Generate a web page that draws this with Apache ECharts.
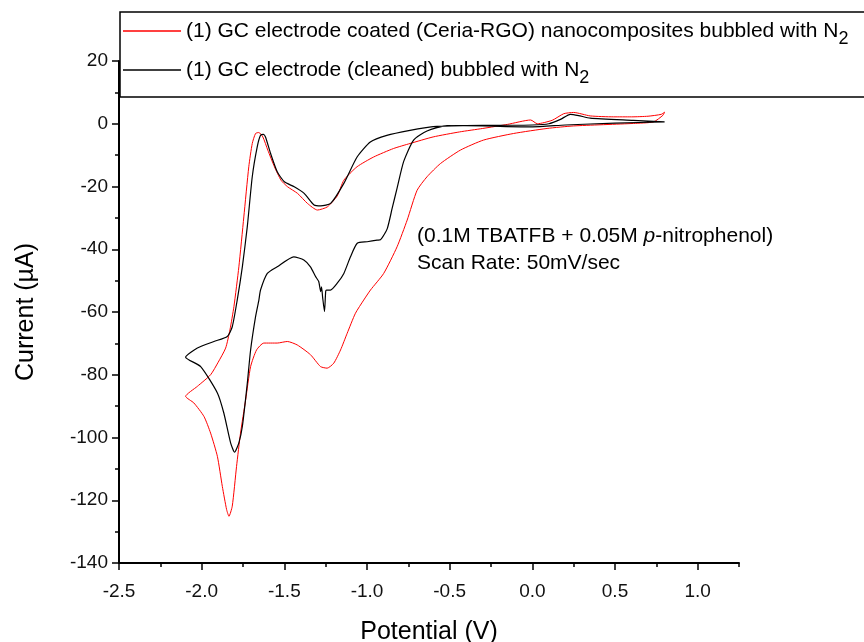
<!DOCTYPE html>
<html>
<head>
<meta charset="utf-8">
<script src="https://cdn.jsdelivr.net/npm/echarts@6/dist/echarts.min.js"></script>
<style>
  html, body { margin: 0; padding: 0; background: #fff; }
  #chart { width: 864px; height: 642px; }
</style>
</head>
<body>
<div id="chart"></div>
<script>
// Cyclic voltammograms, 0.8 V -> -2.1 V -> 0.8 V

const seriesNames = [
  '(1) GC electrode coated (Ceria-RGO) nanocomposites bubbled with N2',
  '(1) GC electrode (cleaned) bubbled with N2'
];

// Ceria-RGO coated GC electrode: potential (V) and current (µA), in scan order
const ceriaPotential = [
  0.80, 0.78, 0.70, 0.60, 0.49, 0.35, 0.25, 0.19, 0.12, 0.03, -0.01, -0.15,
  -0.30, -0.44, -0.60, -0.74, -0.84, -0.96, -1.06, -1.14, -1.18, -1.24,
  -1.30, -1.36, -1.42, -1.48, -1.52, -1.56, -1.60, -1.63, -1.654, -1.674,
  -1.694, -1.715, -1.745, -1.775, -1.805, -1.829, -1.855, -1.90, -1.946,
  -2.026, -2.097,
  -2.047, -1.986, -1.946, -1.905, -1.875, -1.849, -1.835, -1.815, -1.789,
  -1.765, -1.734, -1.704, -1.668, -1.624, -1.543, -1.482, -1.422, -1.342,
  -1.281, -1.241, -1.201, -1.160, -1.120, -1.070, -1.020, -0.979, -0.899,
  -0.818, -0.757, -0.697, -0.637, -0.556, -0.435, -0.295, -0.113, 0.089,
  0.249, 0.612, 0.733, 0.79, 0.80
];
const ceriaCurrent = [
  3.7, 3.0, 2.4, 2.2, 2.2, 2.5, 3.6, 3.2, 1.1, 0.0, 1.2, -0.2,
  -1.5, -2.6, -4.2, -6.3, -7.9, -10.6, -13.7, -18.0, -23.0, -26.5,
  -27.5, -25.4, -22.2, -20.1, -18.0, -13.7, -8.4, -4.2, -2.8, -3.1,
  -6.3, -13.7, -29.7, -45.6, -58.3, -65.7, -71.5, -76.0, -80.0,
  -83.7, -86.9,
  -89.0, -93.3, -98.6, -106.0, -115.6, -123.0, -125.1, -121.9, -109.2,
  -98.6, -88.0, -77.4, -72.1, -69.9, -69.9, -69.4, -70.5, -73.6,
  -77.4, -77.9, -76.3, -72.1, -66.8, -60.4, -56.2, -53.0, -47.7,
  -39.2, -30.7, -21.2, -16.9, -12.7, -8.4, -5.2, -3.1, -1.5,
  -0.7, 0.1, 0.6, 2.7, 3.7
];

// Cleaned GC electrode: potential (V) and current (µA), in scan order
const cleanedPotential = [
  0.80, 0.61, 0.35, 0.28, 0.23, 0.17, 0.10, 0.00, -0.20, -0.40, -0.60,
  -0.74, -0.88, -0.98, -1.06, -1.14, -1.22, -1.28, -1.32, -1.38, -1.44,
  -1.50, -1.543, -1.583, -1.614, -1.627, -1.644, -1.664, -1.694, -1.724,
  -1.754, -1.785, -1.815, -1.845, -1.926, -2.026, -2.097,
  -2.006, -1.905, -1.866, -1.825, -1.801, -1.775, -1.754, -1.724, -1.704,
  -1.674, -1.654, -1.644, -1.603, -1.543, -1.443, -1.382, -1.342, -1.311,
  -1.292, -1.280, -1.275, -1.268, -1.257, -1.250, -1.245, -1.221, -1.180,
  -1.140, -1.100, -1.059, -0.999, -0.939, -0.919, -0.878, -0.848, -0.818,
  -0.778, -0.718, -0.637, -0.516, -0.30, 0.00, 0.20, 0.50, 0.80
];
const cleanedCurrent = [
  0.6, 1.1, 1.8, 2.6, 3.0, 1.4, 0.0, -0.4, -0.5, -0.6, -0.9,
  -2.1, -3.7, -5.8, -10.6, -19.0, -25.4, -26.2, -25.9, -22.2, -20.1,
  -18.5, -15.3, -9.5, -4.2, -3.4, -3.7, -7.4, -16.9, -32.8,
  -45.6, -56.2, -64.7, -67.8, -69.4, -71.5, -74.4,
  -77.4, -85.8, -92.2, -101.7, -104.7, -101.7, -96.5, -82.7, -72.1,
  -61.5, -56.2, -53.0, -47.7, -45.6, -42.4, -43.4, -45.6, -48.7,
  -50.3, -53.5, -52.0, -55.5, -59.9, -53.5, -53.0, -53.0, -50.8,
  -47.7, -42.4, -38.1, -37.6, -37.1, -37.0, -33.5, -27.0, -20.5,
  -12.0, -5.2, -2.3, -0.6, -0.7, -1.0, -0.4, 0.2, 0.6
];

const xMajorTicks = [-2.5, -2.0, -1.5, -1.0, -0.5, 0.0, 0.5, 1.0];
const xMinorTicks = [-2.25, -1.75, -1.25, -0.75, -0.25, 0.25, 0.75, 1.25];

const FONT = '"Liberation Sans", Arial, sans-serif';

const pairs = (xs, ys) => xs.map((x, i) => [x, ys[i]]);

const chart = echarts.init(document.getElementById('chart'), null, { renderer: 'canvas' });

const baseX = {
  type: 'value',
  min: -2.5,
  max: 1.25,
  position: 'bottom',
  splitLine: { show: false },
  minorTick: { show: false }
};

chart.setOption({
  animation: false,
  backgroundColor: '#fff',
  grid: { left: 119, right: 125, top: 61, bottom: 79, containLabel: false, outerBoundsMode: 'none' },
  legend: {
    orient: 'vertical',
    left: 120,
    top: 12,
    padding: [2, 60, 10, 3],
    icon: 'rect',
    itemWidth: 58,
    itemHeight: 1.5,
    itemGap: 5,
    backgroundColor: '#fff',
    borderColor: '#000',
    borderWidth: 1.5,
    borderRadius: 0,
    selectedMode: false,
    data: seriesNames,
    formatter: name => name.replace(/2$/, '{sub|2}'),
    textStyle: {
      fontFamily: FONT,
      fontSize: 21,
      lineHeight: 22,
      color: '#000',
      rich: {
        sub: { fontFamily: FONT, fontSize: 18, lineHeight: 22, padding: [16, 0, 0, 0], color: '#000' }
      }
    }
  },
  xAxis: [
    Object.assign({}, baseX, {
      name: 'Potential (V)',
      nameLocation: 'middle',
      nameGap: 57,
      nameTextStyle: { fontFamily: FONT, fontSize: 25, color: '#000' },
      axisLine: { show: true, onZero: false, lineStyle: { color: '#000', width: 2 } },
      axisTick: { show: true, customValues: xMajorTicks, length: 7, lineStyle: { color: '#000', width: 1.5 } },
      axisLabel: {
        show: true,
        customValues: xMajorTicks,
        margin: 19,
        formatter: v => v.toFixed(1),
        fontFamily: FONT,
        fontSize: 19,
        color: '#111'
      }
    }),
    Object.assign({}, baseX, {
      axisLine: { show: false, onZero: false },
      axisTick: { show: true, customValues: xMinorTicks, length: 4, lineStyle: { color: '#000', width: 1.5 } },
      axisLabel: { show: false }
    })
  ],
  yAxis: {
    type: 'value',
    min: -140,
    max: 20,
    interval: 20,
    name: 'Current (µA)',
    nameLocation: 'middle',
    nameGap: 80,
    nameTextStyle: { fontFamily: FONT, fontSize: 25, color: '#000' },
    splitLine: { show: false },
    axisLine: { show: true, onZero: false, lineStyle: { color: '#000', width: 2 } },
    axisTick: { show: true, length: 7, lineStyle: { color: '#000', width: 1.5 } },
    minorTick: { show: true, splitNumber: 2, length: 4, lineStyle: { color: '#000', width: 1.5 } },
    axisLabel: { margin: 11, fontFamily: FONT, fontSize: 19, color: '#111' }
  },
  graphic: [
    {
      type: 'text',
      left: 417,
      top: 223,
      z: 10,
      style: {
        text: '(0.1M TBATFB + 0.05M {it|p}-nitrophenol)\nScan Rate: 50mV/sec',
        fontFamily: FONT,
        fontSize: 21,
        lineHeight: 27,
        fill: '#000',
        rich: {
          it: { fontFamily: FONT, fontSize: 21, fontStyle: 'italic', lineHeight: 27, fill: '#000' }
        }
      }
    }
  ],
  series: [
    {
      name: seriesNames[0],
      type: 'line',
      xAxisIndex: 0,
      data: pairs(ceriaPotential, ceriaCurrent),
      showSymbol: false,
      symbol: 'none',
      smooth: 0.2,
      color: '#ff0000',
      lineStyle: { color: '#ff0000', width: 1 },
      emphasis: { disabled: true }
    },
    {
      name: seriesNames[1],
      type: 'line',
      xAxisIndex: 0,
      data: pairs(cleanedPotential, cleanedCurrent),
      showSymbol: false,
      symbol: 'none',
      smooth: 0.2,
      color: '#000000',
      lineStyle: { color: '#000000', width: 1.2 },
      emphasis: { disabled: true }
    }
  ]
});
</script>
</body>
</html>
